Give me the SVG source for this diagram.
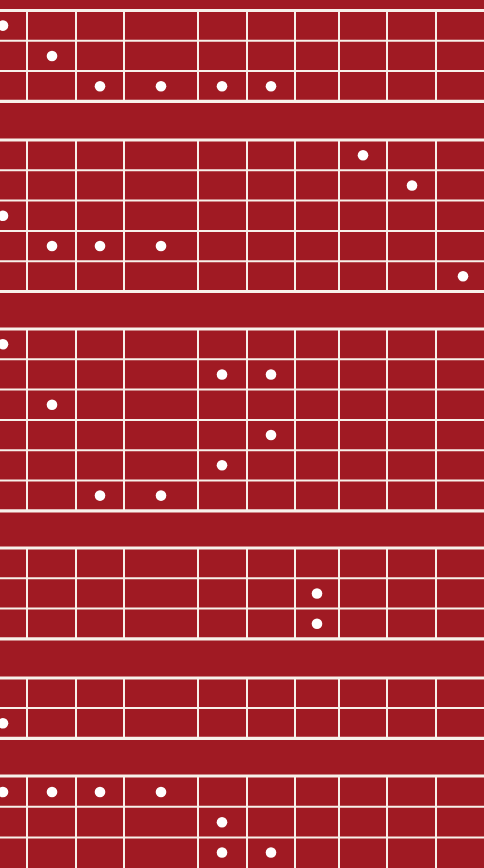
<svg xmlns="http://www.w3.org/2000/svg" width="484" height="868" viewBox="0 0 484 868">
<style>
.bg{fill:#a01a23}
.b{stroke:#f7f1ea;stroke-width:3.2}
.h{stroke:#f7f1ea;stroke-width:2}
.v{stroke:#f7f1ea;stroke-width:2}
.d{fill:#ffffff}
</style>
<rect class="bg" x="0" y="0" width="484" height="868"/>
<g id="section1">
<line class="b" x1="0" y1="10.5" x2="484" y2="10.5"/>
<line class="h" x1="0" y1="40.8" x2="484" y2="40.8"/>
<line class="h" x1="0" y1="71.1" x2="484" y2="71.1"/>
<line class="b" x1="0" y1="101.4" x2="484" y2="101.4"/>
<g class="v"><line x1="27" y1="10.5" x2="27" y2="101.4"/><line x1="76" y1="10.5" x2="76" y2="101.4"/><line x1="124" y1="10.5" x2="124" y2="101.4"/><line x1="198" y1="10.5" x2="198" y2="101.4"/><line x1="247" y1="10.5" x2="247" y2="101.4"/><line x1="295" y1="10.5" x2="295" y2="101.4"/><line x1="339" y1="10.5" x2="339" y2="101.4"/><line x1="387" y1="10.5" x2="387" y2="101.4"/><line x1="436" y1="10.5" x2="436" y2="101.4"/></g>
<g class="d"><circle cx="3" cy="25.6" r="5.3"/><circle cx="52" cy="56" r="5.3"/><circle cx="100" cy="86.2" r="5.3"/><circle cx="161" cy="86.2" r="5.3"/><circle cx="222" cy="86.2" r="5.3"/><circle cx="271" cy="86.2" r="5.3"/></g>
</g>
<g id="section2">
<line class="b" x1="0" y1="140" x2="484" y2="140"/>
<line class="h" x1="0" y1="170.3" x2="484" y2="170.3"/>
<line class="h" x1="0" y1="200.6" x2="484" y2="200.6"/>
<line class="h" x1="0" y1="230.9" x2="484" y2="230.9"/>
<line class="h" x1="0" y1="261.2" x2="484" y2="261.2"/>
<line class="b" x1="0" y1="291.5" x2="484" y2="291.5"/>
<g class="v"><line x1="27" y1="140" x2="27" y2="291.5"/><line x1="76" y1="140" x2="76" y2="291.5"/><line x1="124" y1="140" x2="124" y2="291.5"/><line x1="198" y1="140" x2="198" y2="291.5"/><line x1="247" y1="140" x2="247" y2="291.5"/><line x1="295" y1="140" x2="295" y2="291.5"/><line x1="339" y1="140" x2="339" y2="291.5"/><line x1="387" y1="140" x2="387" y2="291.5"/><line x1="436" y1="140" x2="436" y2="291.5"/></g>
<g class="d"><circle cx="363" cy="155.2" r="5.3"/><circle cx="412" cy="185.5" r="5.3"/><circle cx="3" cy="215.8" r="5.3"/><circle cx="52" cy="246" r="5.3"/><circle cx="100" cy="246" r="5.3"/><circle cx="161" cy="246" r="5.3"/><circle cx="463" cy="276.3" r="5.3"/></g>
</g>
<g id="section3">
<line class="b" x1="0" y1="329" x2="484" y2="329"/>
<line class="h" x1="0" y1="359.3" x2="484" y2="359.3"/>
<line class="h" x1="0" y1="389.6" x2="484" y2="389.6"/>
<line class="h" x1="0" y1="419.9" x2="484" y2="419.9"/>
<line class="h" x1="0" y1="450.2" x2="484" y2="450.2"/>
<line class="h" x1="0" y1="480.5" x2="484" y2="480.5"/>
<line class="b" x1="0" y1="510.8" x2="484" y2="510.8"/>
<g class="v"><line x1="27" y1="329" x2="27" y2="510.8"/><line x1="76" y1="329" x2="76" y2="510.8"/><line x1="124" y1="329" x2="124" y2="510.8"/><line x1="198" y1="329" x2="198" y2="510.8"/><line x1="247" y1="329" x2="247" y2="510.8"/><line x1="295" y1="329" x2="295" y2="510.8"/><line x1="339" y1="329" x2="339" y2="510.8"/><line x1="387" y1="329" x2="387" y2="510.8"/><line x1="436" y1="329" x2="436" y2="510.8"/></g>
<g class="d"><circle cx="3" cy="344.2" r="5.3"/><circle cx="222" cy="374.5" r="5.3"/><circle cx="271" cy="374.5" r="5.3"/><circle cx="52" cy="404.8" r="5.3"/><circle cx="271" cy="435" r="5.3"/><circle cx="222" cy="465.3" r="5.3"/><circle cx="100" cy="495.6" r="5.3"/><circle cx="161" cy="495.6" r="5.3"/></g>
</g>
<g id="section4">
<line class="b" x1="0" y1="548" x2="484" y2="548"/>
<line class="h" x1="0" y1="578.3" x2="484" y2="578.3"/>
<line class="h" x1="0" y1="608.6" x2="484" y2="608.6"/>
<line class="b" x1="0" y1="638.9" x2="484" y2="638.9"/>
<g class="v"><line x1="27" y1="548" x2="27" y2="638.9"/><line x1="76" y1="548" x2="76" y2="638.9"/><line x1="124" y1="548" x2="124" y2="638.9"/><line x1="198" y1="548" x2="198" y2="638.9"/><line x1="247" y1="548" x2="247" y2="638.9"/><line x1="295" y1="548" x2="295" y2="638.9"/><line x1="339" y1="548" x2="339" y2="638.9"/><line x1="387" y1="548" x2="387" y2="638.9"/><line x1="436" y1="548" x2="436" y2="638.9"/></g>
<g class="d"><circle cx="317" cy="593.5" r="5.3"/><circle cx="317" cy="623.8" r="5.3"/></g>
</g>
<g id="section5">
<line class="b" x1="0" y1="678" x2="484" y2="678"/>
<line class="h" x1="0" y1="708" x2="484" y2="708"/>
<line class="b" x1="0" y1="738.4" x2="484" y2="738.4"/>
<g class="v"><line x1="27" y1="678" x2="27" y2="738.4"/><line x1="76" y1="678" x2="76" y2="738.4"/><line x1="124" y1="678" x2="124" y2="738.4"/><line x1="198" y1="678" x2="198" y2="738.4"/><line x1="247" y1="678" x2="247" y2="738.4"/><line x1="295" y1="678" x2="295" y2="738.4"/><line x1="339" y1="678" x2="339" y2="738.4"/><line x1="387" y1="678" x2="387" y2="738.4"/><line x1="436" y1="678" x2="436" y2="738.4"/></g>
<g class="d"><circle cx="3" cy="723.3" r="5.3"/></g>
</g>
<g id="section6">
<line class="b" x1="0" y1="776" x2="484" y2="776"/>
<line class="h" x1="0" y1="806.8" x2="484" y2="806.8"/>
<line class="h" x1="0" y1="837.6" x2="484" y2="837.6"/>
<g class="v"><line x1="27" y1="776" x2="27" y2="868"/><line x1="76" y1="776" x2="76" y2="868"/><line x1="124" y1="776" x2="124" y2="868"/><line x1="198" y1="776" x2="198" y2="868"/><line x1="247" y1="776" x2="247" y2="868"/><line x1="295" y1="776" x2="295" y2="868"/><line x1="339" y1="776" x2="339" y2="868"/><line x1="387" y1="776" x2="387" y2="868"/><line x1="436" y1="776" x2="436" y2="868"/></g>
<g class="d"><circle cx="3" cy="792" r="5.3"/><circle cx="52" cy="792" r="5.3"/><circle cx="100" cy="792" r="5.3"/><circle cx="161" cy="792" r="5.3"/><circle cx="222" cy="822.2" r="5.3"/><circle cx="222" cy="852.5" r="5.3"/><circle cx="271" cy="852.5" r="5.3"/></g>
</g>
</svg>
